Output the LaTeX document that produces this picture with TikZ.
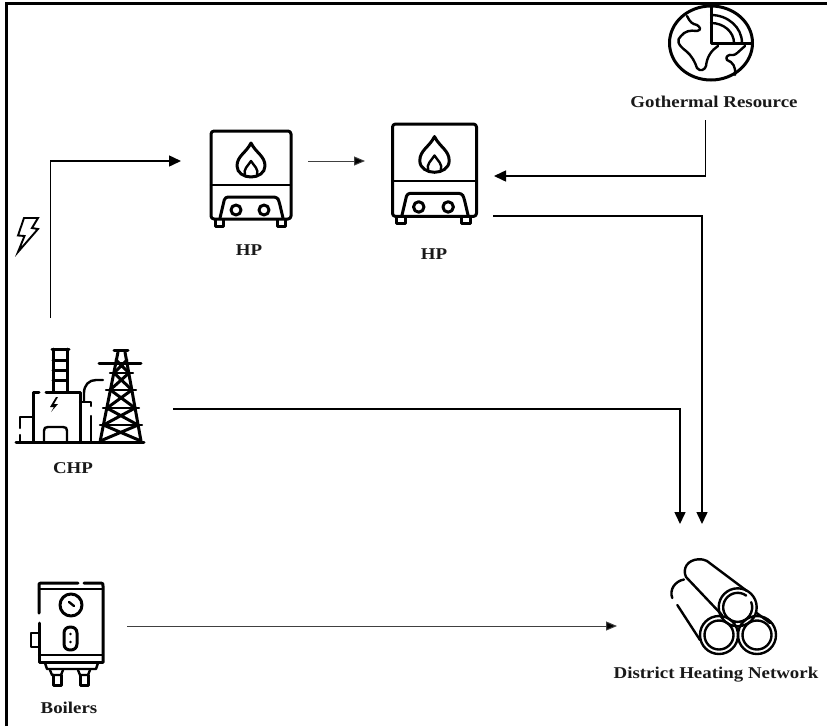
\documentclass[tikz,border=0pt]{standalone}
\usepackage{fontspec}
\usepackage{graphicx}
\setmainfont{Liberation Serif}
\usetikzlibrary{arrows.meta}
\newcommand{\wlabel}[1]{\scalebox{1.145}[1]{#1}}
\tikzset{
 x=1pt,y=-1pt,
 icon/.style={line width=3pt,line cap=round,line join=round},
 thin icon/.style={line width=2.4pt,line cap=round,line join=round},
 flow/.style={line width=1.5pt,-{Triangle[length=12pt,width=11pt]}},
 small flow/.style={line width=1pt,draw=black!75,-{Triangle[length=11pt,width=9pt,fill=black]}},
 lbl/.style={font=\bfseries\fontsize{16.5}{18}\selectfont,inner sep=0pt,text=black!90},
 box/.style={inner sep=0pt,draw=none},
 heatpump/.pic={
  \draw[icon] (-40,-50) [rounded corners=3pt] -- (40,-50) -- (40,38) -- (-40,38) -- cycle;
  \draw[thin icon] (-40,4) -- (40,4);
  \draw[icon] (0,-38) .. controls (5,-28) and (14,-25) .. (14,-15) .. controls (14,-8) and (7,-4) .. (0,-4) .. controls (-7,-4) and (-14,-8) .. (-14,-15) .. controls (-14,-25) and (-5,-28) .. (0,-38) -- cycle;
  \draw[thin icon] (-6,-6) .. controls (-8,-12) and (-3,-15) .. (0,-20) .. controls (3,-15) and (8,-12) .. (6,-6);
  \draw[icon] (-31,37) -- (-27,20) [rounded corners=3pt] -- (-26,16) -- (26,16) -- (28,20) [sharp corners] -- (32,37);
  \draw[icon] (-15,29) circle (5);
  \draw[icon] (13,29) circle (5);
  \draw[icon] (-36,39) -- (-36,45) -- (-28,45) -- (-28,39);
  \draw[icon] (26,39) -- (26,45) -- (34,45) -- (34,39);
 }
}
\begin{document}
\begin{tikzpicture}
\useasboundingbox (0,0) rectangle (827,726);
\fill[white] (0,0) rectangle (827,726);
% frame
\draw[line width=3pt,black] (6,726) -- (6,3) -- (827,3);

% icon nodes
\node[box,minimum width=81pt,minimum height=98pt] (hpA) at (251,180) {};
\node[box,minimum width=85pt,minimum height=104pt] (hpB) at (434.5,175) {};
\node[box,minimum width=130pt,minimum height=94pt] (chp) at (80,395) {};
\node[box,minimum width=84pt,minimum height=76pt] (geo) at (711,43) {};
\node[box,minimum width=74pt,minimum height=104pt] (boiler) at (67,635) {};
\node[box,minimum width=110pt,minimum height=95pt] (dhn) at (720,608) {};

% heat pumps
\pic at (251,181) {heatpump};
\pic[scale=1.05] at (434.5,176.5) {heatpump};

% lightning bolt
\draw[line width=1.9pt,line join=miter] (24,218) -- (38,218) -- (32,228) -- (38,229) -- (18,252) -- (24.500,236) -- (18,235.5) -- cycle;

% CHP
\begin{scope}[icon]
 \draw (16,442) -- (144,442);
 % chimney
 \draw (52,349) -- (69,349);
 \draw[icon] (53,349) -- (53,392) (67,349) -- (67,392);
 \draw[icon] (53,360) -- (67,360) (53,370) -- (67,370) (53,380) -- (67,380);
 % building
 \draw (33,442) -- (33,392) -- (39,392);
 \draw (46,392) -- (80,392) -- (80,442);
 \draw[thin icon] (44,442) -- (44,431) .. controls (44,428) and (45,427) .. (48,427) -- (63,427) .. controls (66,427) and (67,428) .. (67,431) -- (67,442);
 \fill (56,397) -- (50,407) -- (54,407) -- (51,412) -- (58,404) -- (54,404) -- (58,397) -- cycle;
 % annex
 \draw[thin icon] (33,417) -- (20,417) -- (20,428) (20,435) -- (20,442);
 % pipe
 \draw[thin icon] (80,402) -- (91,402) -- (91,406) (91,416) -- (91,442);
 \draw[thin icon] (84,401) -- (84,393) .. controls (84,385) and (89,380) .. (96,380) -- (103,380);
 % tower
 \draw (118,352) -- (100.2,441);
 \draw (125,352) -- (141,441);
 \draw (114,350) -- (128,350);
 \draw (99,363) -- (141,363);
 \draw[icon] (116,360) -- (129,373) (127,360) -- (114,373);
 \draw[icon] (114,373) -- (132,390) (129,373) -- (110,390);
 \draw[icon] (110.4,390) -- (135,408) (131.8,390) -- (107,408);
 \draw[icon] (106.8,408) -- (138,425) (135.1,408) -- (103.4,425);
 \draw[icon] (103.4,425) -- (141,441) (138.1,425) -- (100.2,441);
 \draw[thin icon] (110,373) -- (133,373) (106,390) -- (136,390) (103,408) -- (139,408) (100,425) -- (142,425);
\end{scope}

% globe
\draw[icon] (711,43) ellipse[x radius=41.5,y radius=37];
\draw[icon] (711,6) -- (711,43) -- (752,43);
\draw[thin icon] (711,15) arc[start angle=-90,end angle=0,x radius=31,y radius=28];
\draw[thin icon] (711,23) arc[start angle=-90,end angle=0,x radius=23,y radius=20];
\draw[thin icon] (687,16) .. controls (690,22) and (692,24) .. (697,25) .. controls (700,27) and (702,30) .. (697,31) .. controls (690,30) and (685,31) .. (681,36) .. controls (676,40) and (678,45) .. (686,51) .. controls (692,56) and (695,62) .. (697,68) .. controls (700,72) and (705,70) .. (706,66) .. controls (707,56) and (712,50) .. (718,46);
\draw[thin icon] (745,46) .. controls (738,52) and (736,55) .. (733,55) .. controls (728,54) and (725,57) .. (727,60) .. controls (733,62) and (736,67) .. (735,75);

% boiler
\begin{scope}[icon]
 \draw (39,613) -- (39,585) .. controls (39,584) and (39,583) .. (41,583) -- (78,583);
 \draw (84,583) -- (101,583) .. controls (103,583) and (103,584) .. (103,586) -- (103,662);
 \draw[thin icon] (39,589) -- (103,589);
 \draw (39,623) -- (39,662) -- (103,662);
 \draw[thin icon] (39,655) -- (103,655);
 \draw (71,605) circle (11);
 \draw[thin icon] (69,602) -- (74,606);
 \draw (64,633) -- (64,644) .. controls (64,648) and (67,650) .. (70.500,650) .. controls (74,650) and (77,648) .. (77,644) -- (77,633) .. controls (77,629) and (74,627) .. (70.500,627) .. controls (67,627) and (64,629) .. (64,633) -- cycle;
 \fill (70.5,634) circle (1.4) (70.5,642) circle (1.4);
 \draw[thin icon] (38,633) -- (31,633) -- (31,647) -- (38,647);
 \draw[thin icon] (45,663) -- (47,669) -- (96,669) -- (98,663);
 \draw[thin icon] (50,670) -- (52,675) -- (61,675) -- (63,670) (78,670) -- (80,675) -- (88,675) -- (90,670);
 \draw[icon] (53,675) -- (53,685) -- (61,685) -- (61,675) (80,675) -- (80,685) -- (88,685) -- (88,675);
\end{scope}

% pipes
\begin{scope}[thin icon]
 \draw (737.7,607.3) circle (19);
 \draw (719,635) circle (19);
 \draw (757,635) circle (19);
 \draw (719,635) circle (14.5);
 \draw (757,635) circle (14.5);
 \draw (746.2,595.6) arc[start angle=-54,end angle=-381,radius=14.5];
 \draw (686,577) .. controls (682,568) and (688,560) .. (698,559.3) .. controls (702,559) and (705,560) .. (707,561) -- (747,591);
 \draw (686,577) -- (722,615);
 \draw (672.3,598) .. controls (669,590) and (675,581) .. (684,579.500);
 \draw (677.3,605) -- (700,640);
 \draw (756.7,613) -- (770,623);
\end{scope}

% labels
\node[lbl] (hpAl) at (249,250.5) {\wlabel{HP}};
\node[lbl] (hpBl) at (434,254.5) {\wlabel{HP}};
\node[lbl] (chpl) at (73,468.5) {\wlabel{CHP}};
\node[lbl] (boill) at (69,707.5) {\wlabel{Boilers}};
\node[lbl] (geol) at (714,101.5) {\wlabel{Gothermal Resource}};
\node[lbl] (dhnl) at (716,674.5) {\wlabel{District Heating Network}};

% connector ports
\coordinate (chpUp) at (50.5,318);
\coordinate (hpAin) at (181,161);
\coordinate (hpAout) at (308,161);
\coordinate (hpBin) at (365,161);
\coordinate (geoOut) at (705.5,120);
\coordinate (hpBgeo) at (494,176);
\coordinate (hpBout) at (493,216);
\coordinate (dhnB) at (702,524);
\coordinate (chpOut) at (173,409);
\coordinate (dhnA) at (680,524);
\coordinate (boilOut) at (127,626);
\coordinate (dhnC) at (617,626);

\draw[flow] (chpUp) |- (hpAin);
\draw[small flow] (hpAout) -- (hpBin);
\draw[flow] (geoOut) |- (hpBgeo);
\draw[flow] (hpBout) -| (dhnB);
\draw[flow] (chpOut) -| (dhnA);
\draw[small flow] (boilOut) -- (dhnC);
\end{tikzpicture}
\end{document}
